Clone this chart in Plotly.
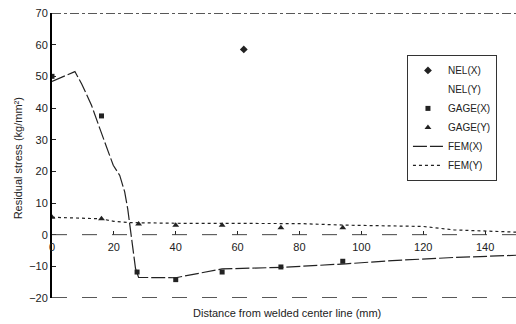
import plotly.graph_objects as go

# ---- data ----
gage_x_x = [0, 16, 27.5, 40, 55, 74, 94]
gage_x_y = [50, 37.5, -11.8, -14.2, -11.8, -10.2, -8.4]

nel_x_x = [62]
nel_x_y = [58.5]

gage_y_x = [0, 16, 28, 40, 55, 74, 94]
gage_y_y = [5.5, 5.0, 3.4, 3.0, 3.0, 2.2, 2.2]

fem_x_x = [0, 7.4, 9.6, 12.8, 15.5, 17.6, 19.8, 21.9, 23.5, 24.5, 25.3, 26.2, 27, 28, 34, 40, 55, 75, 95, 110, 130, 150]
fem_x_y = [48.4, 51.5, 47.6, 40.8, 33.4, 27.7, 21.9, 18.7, 13.5, 8, 2, -5, -10.7, -13.5, -13.6, -13.6, -10.8, -10.3, -9.2, -8.2, -7.2, -6.5]

fem_y_x = [0, 10, 16, 20, 25, 40, 55, 70, 80, 95, 110, 120, 130, 150]
fem_y_y = [5.5, 5.3, 5.0, 4.2, 3.8, 3.6, 3.5, 3.6, 3.5, 3.0, 2.8, 2.6, 1.5, 0.8]

x_ticks = [0, 20, 40, 60, 80, 100, 120, 140]
y_ticks = [-20, -10, 0, 10, 20, 30, 40, 50, 60, 70]

INK = "#222222"
FONT = "Liberation Sans, Arial, sans-serif"

fig = go.Figure()
fig.add_trace(go.Scatter(x=nel_x_x, y=nel_x_y, mode="markers", name="NEL(X)",
                         marker=dict(symbol="diamond", size=6, color=INK)))
fig.add_trace(go.Scatter(x=[None], y=[None], mode="markers", name="NEL(Y)",
                         marker=dict(symbol="diamond-open", size=6, color="rgba(0,0,0,0)")))
fig.add_trace(go.Scatter(x=gage_x_x, y=gage_x_y, mode="markers", name="GAGE(X)",
                         marker=dict(symbol="square", size=5, color=INK)))
fig.add_trace(go.Scatter(x=gage_y_x, y=gage_y_y, mode="markers", name="GAGE(Y)",
                         marker=dict(symbol="triangle-up", size=6, color=INK)))
fig.add_trace(go.Scatter(x=fem_x_x, y=fem_x_y, mode="lines", name="FEM(X)",
                         line=dict(color=INK, width=1.2, dash="14px,3px")))
fig.add_trace(go.Scatter(x=fem_y_x, y=fem_y_y, mode="lines", name="FEM(Y)",
                         line=dict(color=INK, width=1.2, dash="dot")))

# frame / zero lines
fig.add_shape(type="line", xref="paper", yref="y", x0=0, x1=1, y0=70, y1=70,
              line=dict(color=INK, width=1.5, dash="dashdot"))
fig.add_shape(type="line", xref="paper", yref="y", x0=0, x1=1, y0=-20, y1=-20,
              line=dict(color=INK, width=1.5, dash="longdash"))
fig.add_shape(type="line", xref="paper", yref="y", x0=0, x1=1, y0=0, y1=0,
              line=dict(color="#444444", width=1, dash="longdash"))

fig.update_layout(
    width=516, height=324,
    margin=dict(l=52, r=0, t=13, b=26),
    paper_bgcolor="white", plot_bgcolor="white",
    font=dict(family=FONT, size=11, color=INK),
    showlegend=True,
    legend=dict(x=0.765, y=0.853, xanchor="left", yanchor="top",
                bordercolor="#333333", borderwidth=1, bgcolor="white",
                font=dict(size=10, color=INK), itemwidth=30,
                tracegroupgap=0),
    xaxis=dict(range=[0, 150], tickvals=x_ticks, ticks="inside", ticklen=4,
               tickcolor=INK, showgrid=False, zeroline=False, showline=False,
               anchor="free", position=20 / 90, ticklabelstandoff=4,
               tickfont=dict(size=11, color=INK)),
    yaxis=dict(range=[-20, 70], tickvals=y_ticks, ticks="inside", ticklen=4,
               tickcolor=INK, showgrid=False, zeroline=False, showline=True,
               linecolor="black", linewidth=2,
               tickfont=dict(size=11, color=INK)),
    annotations=[
        dict(text="Distance from welded center line (mm)", xref="paper", yref="paper",
             x=0.506, y=0, yshift=-15, showarrow=False, xanchor="center", yanchor="middle",
             font=dict(size=11, color=INK)),
        dict(text="Residual stress (kg/mm²)", xref="paper", yref="paper",
             x=0, xshift=-34, y=0.49, showarrow=False, textangle=-90,
             xanchor="center", yanchor="middle", font=dict(size=11, color=INK)),
    ],
)

fig.write_html("out.html")
